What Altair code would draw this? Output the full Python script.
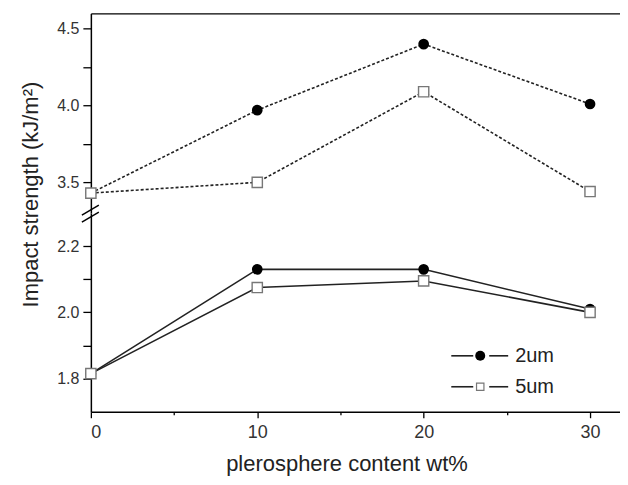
import altair as alt
import pandas as pd

content = [0, 10, 20, 30]
upper_2um = [3.43, 3.97, 4.40, 4.01]
upper_5um = [3.43, 3.50, 4.09, 3.44]
lower_2um = [1.815, 2.13, 2.13, 2.01]
lower_5um = [1.815, 2.075, 2.095, 2.00]
series = ["2um", "5um"]

upper_ticks = [3.5, 3.75, 4.0, 4.25, 4.5]
upper_labels = [3.5, 4.0, 4.5]
lower_ticks = [1.8, 1.9, 2.0, 2.1, 2.2]
lower_labels = [1.8, 2.0, 2.2]
x_ticks = [0, 5, 10, 15, 20, 25, 30]
x_labels = [0, 10, 20, 30]

FONT = "Liberation Sans"
W = 530


def frame(u2, u5):
    rows = []
    for x, a, b in zip(content, u2, u5):
        rows.append({"content": x, "value": a, "series": series[0]})
        rows.append({"content": x, "value": b, "series": series[1]})
    return pd.DataFrame(rows)


def lbl_expr(vals):
    arr = ",".join(str(v) for v in vals)
    return f"indexof([{arr}], datum.value) >= 0 ? format(datum.value, '.1f') : ''"


xscale = alt.Scale(domain=[0, 31.8], nice=False, zero=False)


def panel(df, domain, ticks, labels, dashed, top, height):
    if top:
        xaxis = alt.Axis(orient="top", labels=False, ticks=False, title=None, domain=True)
        yaxis = alt.Axis(values=ticks, labelExpr=lbl_expr(labels), title="Impact strength (kJ/m²)",
                         titleAngle=-90, titleX=-53, titleY=181, titleAlign="center",
                         titleBaseline="alphabetic", titleFontSize=22, titleFont=FONT,
                         titleFontWeight="normal", titleColor="#222")
    else:
        xaxis = alt.Axis(values=x_ticks,
                         labelExpr="indexof([" + ",".join(str(v) for v in x_labels) + "], datum.value) >= 0 ? datum.value : ''",
                         labelFontSize=18, labelPadding=6,
                         tickSize={"condition": {"test": "datum.value % 10 === 0", "value": 6}, "value": 3},
                         title="plerosphere content wt%", titleFontSize=22, titleFont=FONT,
                         titleFontWeight="normal", titleColor="#222", titlePadding=12,
                         titleX=256, titleAnchor="start", titleAlign="center")
        yaxis = alt.Axis(values=ticks, labelExpr=lbl_expr(labels), title=None)
    base = alt.Chart(df).encode(
        x=alt.X("content:Q", scale=xscale, axis=xaxis),
        y=alt.Y("value:Q", scale=alt.Scale(domain=domain, nice=False, zero=False), axis=yaxis),
    )
    line_kw = dict(color="#222", strokeWidth=1.6)
    if dashed:
        line_kw["strokeDash"] = [3, 2]
    lines = base.mark_line(**line_kw).encode(detail="series:N")
    circ = base.transform_filter(alt.datum.series == series[0]).mark_point(
        shape="circle", filled=True, color="#000", size=115, opacity=1)
    sq = base.transform_filter(alt.datum.series == series[1]).mark_point(
        shape="square", fill="white", stroke="#777", strokeWidth=1.4, size=105, opacity=1)
    return alt.layer(lines, circ, sq).properties(width=W, height=height)


upper = panel(frame(upper_2um, upper_5um), [3.3, 4.6], upper_ticks, upper_labels, True, True, 200)
brk_df = pd.DataFrame({"k": ["a"]})
brk1 = alt.Chart(brk_df).mark_rule(color="#000", strokeWidth=1.5).encode(
    x=alt.value(-9), x2=alt.value(8), y=alt.value(202), y2=alt.value(192))
brk2 = alt.Chart(brk_df).mark_rule(color="#000", strokeWidth=1.5).encode(
    x=alt.value(-9), x2=alt.value(8), y=alt.value(209), y2=alt.value(199))
upper = alt.layer(upper, brk1, brk2)

lower = panel(frame(lower_2um, lower_5um), [1.7, 2.3], lower_ticks, lower_labels, False, False, 199)

leg = pd.DataFrame({"label": series})
layers = []
for name, yy in zip(series, [143, 174]):
    d = alt.Chart(leg).transform_filter(alt.datum.label == name)
    layers.append(d.mark_rule(color="#222", strokeWidth=1.6).encode(
        x=alt.value(361), x2=alt.value(383), y=alt.value(yy)))
    layers.append(d.mark_rule(color="#222", strokeWidth=1.6).encode(
        x=alt.value(399), x2=alt.value(418), y=alt.value(yy)))
    if name == series[0]:
        layers.append(d.mark_point(shape="circle", filled=True, color="#000", size=100, opacity=1).encode(
            x=alt.value(390), y=alt.value(yy)))
    else:
        layers.append(d.mark_point(shape="square", fill="white", stroke="#777", strokeWidth=1.2, size=55,
                                   opacity=1).encode(x=alt.value(390), y=alt.value(yy)))
    layers.append(d.mark_text(font=FONT, fontSize=20, color="#222", align="left", baseline="middle").encode(
        x=alt.value(425), y=alt.value(yy), text="label:N"))
lower = alt.layer(lower, *layers)

chart = alt.vconcat(upper, lower, spacing=0, bounds="flush").properties(
    padding={"left": 12, "top": 5, "right": 0, "bottom": 5}
).configure_view(stroke=None).configure_axis(
    labelFont=FONT, labelFontSize=16, labelColor="#333", domainColor="#000", domainWidth=1.5,
    tickColor="#000", tickWidth=1.3, tickSize=8, grid=False, labelPadding=4,
)

chart.save("out.html", embed_options={"renderer": "svg", "actions": False})
